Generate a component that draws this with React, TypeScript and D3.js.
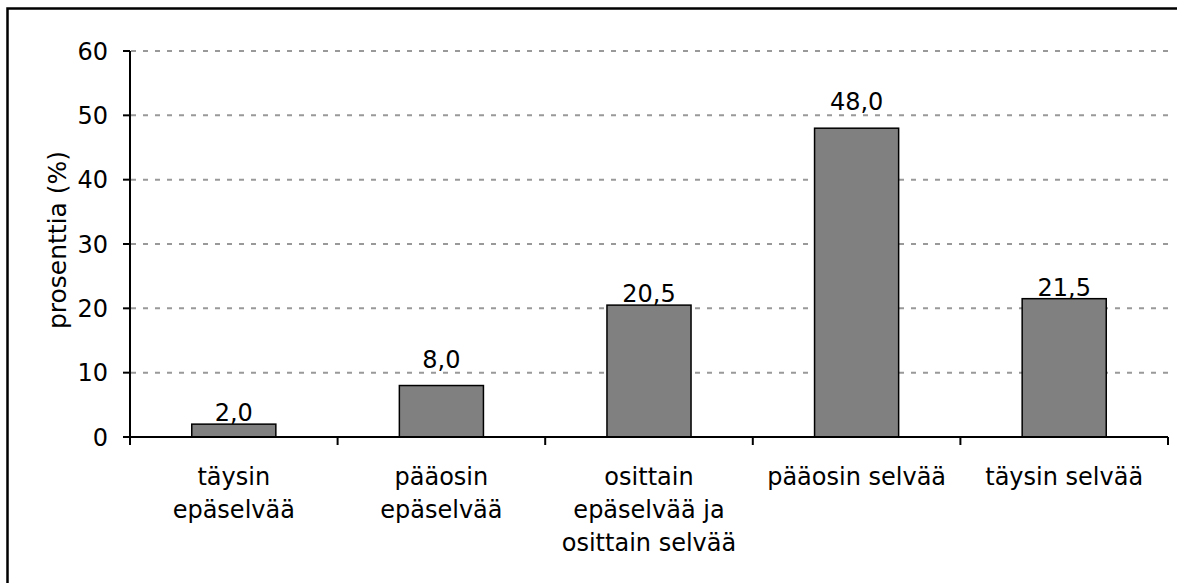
import React from "react";
import * as d3 from "d3";

const categories: string[][] = [
  ["täysin", "epäselvää"],
  ["pääosin", "epäselvää"],
  ["osittain", "epäselvää ja", "osittain selvää"],
  ["pääosin selvää"],
  ["täysin selvää"],
];
const values: number[] = [2.0, 8.0, 20.5, 48.0, 21.5];
const yTicks: number[] = [0, 10, 20, 30, 40, 50, 60];
const yLabel = "prosenttia (%)";

const W = 1177;
const H = 583;
const left = 130;
const right = 1168;
const top = 51;
const bottom = 437;
const FONT = "'DejaVu Sans', sans-serif";

export default function App() {
  const x = d3
    .scaleBand<number>()
    .domain(categories.map((_, i) => i))
    .range([left, right])
    .paddingInner(0)
    .paddingOuter(0);
  const y = d3.scaleLinear().domain([0, 60]).range([bottom, top]);
  const bw = x.bandwidth() * 0.405;
  const fmt = (v: number) => v.toFixed(1).replace(".", ",");

  const labelY = (v: number) => {
    const barTop = y(v);
    let base = barTop - 3;
    const topOfText = base - 17;
    for (const t of yTicks) {
      if (t === 0) continue;
      const gy = y(t);
      if (gy > topOfText - 1 && gy < base + 2) {
        base = gy - 5;
      }
    }
    return base;
  };

  const boundaries = d3.range(categories.length + 1).map((i) =>
    i < categories.length ? (x(i) as number) : right
  );

  return (
    <svg
      width={W}
      height={H}
      style={{ position: "absolute", left: 0, top: 0, background: "#fff" }}
      fontFamily={FONT}
    >
      <rect x={0} y={0} width={W} height={H} fill="#fff" />
      <rect
        x={7.5}
        y={8.5}
        width={1300}
        height={700}
        fill="none"
        stroke="#000"
        strokeWidth={2.5}
      />
      {yTicks
        .filter((t) => t > 0)
        .map((t) => (
          <line
            key={"g" + t}
            x1={left + 1}
            x2={right}
            y1={y(t)}
            y2={y(t)}
            stroke="#999"
            strokeWidth={2}
            strokeDasharray="5,7"
          />
        ))}
      {values.map((v, i) => {
        const cx = (x(i) as number) + x.bandwidth() / 2;
        return (
          <rect
            key={"b" + i}
            x={cx - bw / 2}
            y={y(v)}
            width={bw}
            height={y(0) - y(v)}
            fill="#808080"
            stroke="#000"
            strokeWidth={1.5}
          />
        );
      })}
      {values.map((v, i) => {
        const cx = (x(i) as number) + x.bandwidth() / 2;
        return (
          <text
            key={"l" + i}
            x={cx}
            y={labelY(v)}
            textAnchor="middle"
            fontSize={24}
            fill="#000"
          >
            {fmt(v)}
          </text>
        );
      })}
      {/* y axis */}
      <line x1={left} x2={left} y1={top} y2={bottom} stroke="#000" strokeWidth={2} />
      {yTicks.map((t) => (
        <g key={"t" + t}>
          <line x1={left - 7} x2={left} y1={y(t)} y2={y(t)} stroke="#000" strokeWidth={2} />
          <text
            x={108}
            y={y(t)}
            dy="0.36em"
            textAnchor="end"
            fontSize={24}
            fill="#000"
          >
            {t}
          </text>
        </g>
      ))}
      {/* x axis */}
      <line x1={left} x2={right} y1={bottom} y2={bottom} stroke="#000" strokeWidth={2} />
      {boundaries.map((bx, i) => (
        <line key={"xt" + i} x1={bx} x2={bx} y1={bottom} y2={bottom + 8} stroke="#000" strokeWidth={2} />
      ))}
      {categories.map((lines, i) => {
        const cx = (x(i) as number) + x.bandwidth() / 2;
        return (
          <text key={"c" + i} textAnchor="middle" fontSize={24} fill="#000">
            {lines.map((ln, j) => (
              <tspan key={j} x={cx} y={485 + j * 33}>
                {ln}
              </tspan>
            ))}
          </text>
        );
      })}
      <text
        transform={`translate(66,${240}) rotate(-90)`}
        textAnchor="middle"
        fontSize={25}
        fill="#000"
      >
        {yLabel}
      </text>
    </svg>
  );
}
